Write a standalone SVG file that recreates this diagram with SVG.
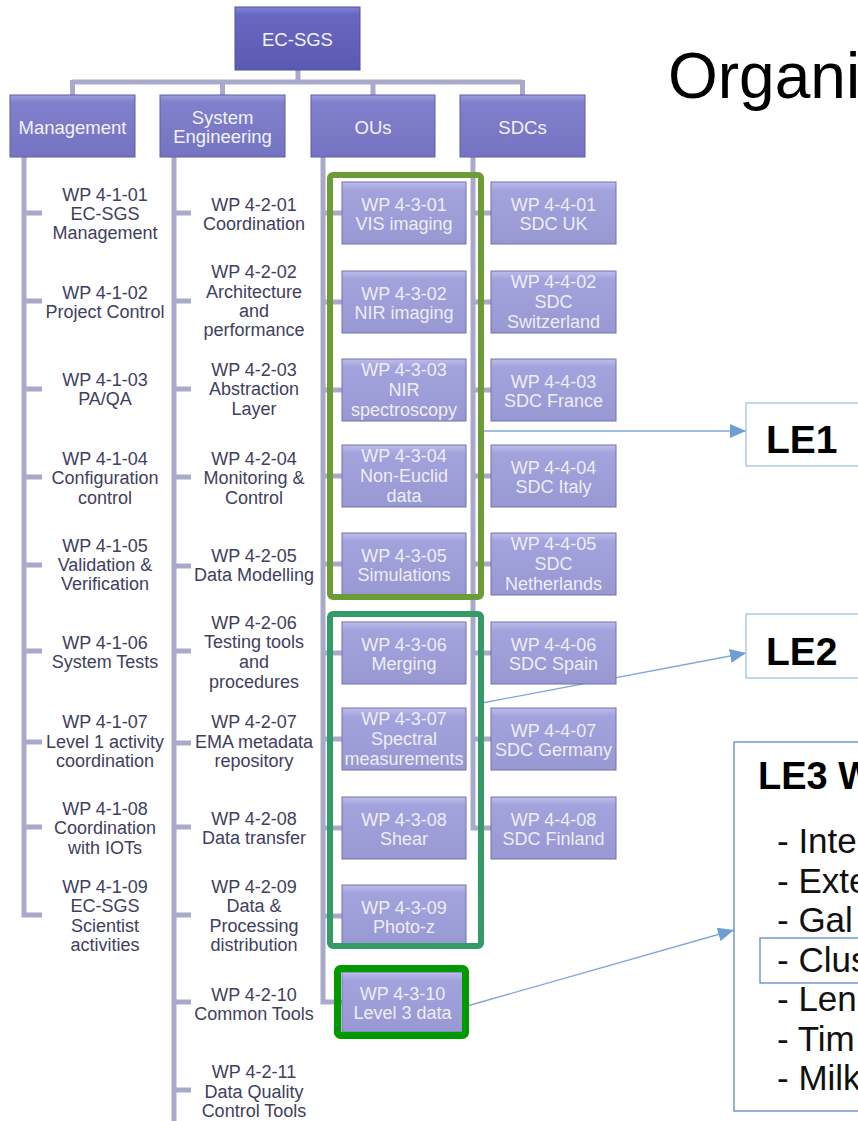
<svg xmlns="http://www.w3.org/2000/svg" width="858" height="1121" viewBox="0 0 858 1121">
<defs>
<linearGradient id="gTop" x1="0" y1="0" x2="0" y2="1"><stop offset="0" stop-color="#8282d4"/><stop offset="0.12" stop-color="#6868c2"/><stop offset="1" stop-color="#5a5ab2"/></linearGradient>
<linearGradient id="gL2" x1="0" y1="0" x2="0" y2="1"><stop offset="0" stop-color="#9c9ce0"/><stop offset="0.12" stop-color="#8080cc"/><stop offset="1" stop-color="#7474c2"/></linearGradient>
<linearGradient id="gWP" x1="0" y1="0" x2="0" y2="1"><stop offset="0" stop-color="#bcbcec"/><stop offset="0.14" stop-color="#a2a2dc"/><stop offset="1" stop-color="#9898d2"/></linearGradient>
<marker id="ah" markerUnits="userSpaceOnUse" markerWidth="16" markerHeight="14" refX="16" refY="7" orient="auto"><path d="M0,0 L16,7 L0,14 z" fill="#6e9ed4"/></marker>
</defs>
<style>
text{font-family:"Liberation Sans",Arial,sans-serif}
.stem{stroke:#a9a9cb;stroke-width:5;fill:none}
.lbl{font-size:18px;fill:#40405e;text-anchor:middle}
.top{fill:url(#gTop);stroke:#50509a;stroke-width:1}
.l2{fill:url(#gL2);stroke:#5e5ea4;stroke-width:1}
.wp{fill:url(#gWP);stroke:#7272ac;stroke-width:1}
.bt{font-size:18.5px;fill:#f2f2fa;text-anchor:middle}
.wt{font-size:18px;fill:#ededf6;text-anchor:middle}
.grp{fill:none;stroke-linejoin:round}
.conn{stroke:#7ea8d8;stroke-width:1.3;fill:none;marker-end:url(#ah)}
.le{fill:#fff;stroke:#a4c2e6;stroke-width:1.3}
.le3{fill:#fff;stroke:#4f81bd;stroke-width:1.2}
.leT{font-size:39px;font-weight:bold;fill:#000}
.li{font-size:35px;fill:#111}
</style>
<rect width="858" height="1121" fill="#fff"/>

<g id="connectors">
<path class="stem" d="M298,70 V82 M72.5,82 H522.5 M72.5,80 V95 M222.5,80 V95 M373,80 V95 M522.5,80 V95"/>
<path class="stem" d="M24,157 V915 H42"/>
<path class="stem" d="M24,213 H42 M24,301 H42 M24,389 H42 M24,477 H42 M24,565 H42 M24,651 H42 M24,742 H42 M24,827 H42"/>
<path class="stem" d="M174,157 V1121"/>
<path class="stem" d="M174,213 H191 M174,301 H191 M174,389 H191 M174,477 H191 M174,566 H191 M174,651 H191 M174,743 H191 M174,827 H191 M174,915 H191 M174,1002 H191 M174,1090 H191"/>
<path class="stem" d="M323,157 V1002 H342"/>
<path class="stem" d="M323,213 H342 M323,302 H342 M323,390 H342 M323,476 H342 M323,564 H342 M323,653 H342 M323,739 H342 M323,828 H342 M323,916 H342"/>
<path class="stem" d="M473,157 V828 H491"/>
<path class="stem" d="M473,213 H491 M473,302 H491 M473,390 H491 M473,476 H491 M473,564 H491 M473,653 H491 M473,739 H491"/>
<line class="conn" x1="482" y1="431" x2="746" y2="431"/>
<line class="conn" x1="482" y1="703" x2="746" y2="653"/>
<line class="conn" x1="467" y1="1006" x2="734" y2="930"/>
</g>

<g id="ec-sgs"><rect class="top" x="235" y="7" width="125" height="63"/><text class="bt" x="297.5" y="46">EC-SGS</text></g>
<g id="management"><rect class="l2" x="10" y="95" width="125" height="62"/><text class="bt" x="72.5" y="134">Management</text></g>
<g id="system-engineering"><rect class="l2" x="160" y="95" width="125" height="62"/><text class="bt" x="222.5" y="124">System</text><text class="bt" x="222.5" y="143">Engineering</text></g>
<g id="ous"><rect class="l2" x="311" y="95" width="124" height="62"/><text class="bt" x="373" y="134">OUs</text></g>
<g id="sdcs"><rect class="l2" x="460" y="95" width="125" height="62"/><text class="bt" x="522.5" y="134">SDCs</text></g>

<g id="wp-4-1-01"><text class="lbl" x="105" y="201">WP 4-1-01</text><text class="lbl" x="105" y="220">EC-SGS</text><text class="lbl" x="105" y="239">Management</text></g>
<g id="wp-4-1-02"><text class="lbl" x="105" y="299">WP 4-1-02</text><text class="lbl" x="105" y="318">Project Control</text></g>
<g id="wp-4-1-03"><text class="lbl" x="105" y="386">WP 4-1-03</text><text class="lbl" x="105" y="405">PA/QA</text></g>
<g id="wp-4-1-04"><text class="lbl" x="105" y="465">WP 4-1-04</text><text class="lbl" x="105" y="484">Configuration</text><text class="lbl" x="105" y="504">control</text></g>
<g id="wp-4-1-05"><text class="lbl" x="105" y="552">WP 4-1-05</text><text class="lbl" x="105" y="571">Validation &amp;</text><text class="lbl" x="105" y="590">Verification</text></g>
<g id="wp-4-1-06"><text class="lbl" x="105" y="649">WP 4-1-06</text><text class="lbl" x="105" y="668">System Tests</text></g>
<g id="wp-4-1-07"><text class="lbl" x="105" y="728">WP 4-1-07</text><text class="lbl" x="105" y="747.5">Level 1 activity</text><text class="lbl" x="105" y="767">coordination</text></g>
<g id="wp-4-1-08"><text class="lbl" x="105" y="815">WP 4-1-08</text><text class="lbl" x="105" y="834">Coordination</text><text class="lbl" x="105" y="854">with IOTs</text></g>
<g id="wp-4-1-09"><text class="lbl" x="105" y="893">WP 4-1-09</text><text class="lbl" x="105" y="912">EC-SGS</text><text class="lbl" x="105" y="932">Scientist</text><text class="lbl" x="105" y="951">activities</text></g>

<g id="wp-4-2-01"><text class="lbl" x="254" y="211">WP 4-2-01</text><text class="lbl" x="254" y="230">Coordination</text></g>
<g id="wp-4-2-02"><text class="lbl" x="254" y="278">WP 4-2-02</text><text class="lbl" x="254" y="297.5">Architecture</text><text class="lbl" x="254" y="317">and</text><text class="lbl" x="254" y="336">performance</text></g>
<g id="wp-4-2-03"><text class="lbl" x="254" y="376">WP 4-2-03</text><text class="lbl" x="254" y="395">Abstraction</text><text class="lbl" x="254" y="415">Layer</text></g>
<g id="wp-4-2-04"><text class="lbl" x="254" y="465">WP 4-2-04</text><text class="lbl" x="254" y="484">Monitoring &amp;</text><text class="lbl" x="254" y="504">Control</text></g>
<g id="wp-4-2-05"><text class="lbl" x="254" y="562">WP 4-2-05</text><text class="lbl" x="254" y="581">Data Modelling</text></g>
<g id="wp-4-2-06"><text class="lbl" x="254" y="629">WP 4-2-06</text><text class="lbl" x="254" y="648">Testing tools</text><text class="lbl" x="254" y="668">and</text><text class="lbl" x="254" y="688">procedures</text></g>
<g id="wp-4-2-07"><text class="lbl" x="254" y="728">WP 4-2-07</text><text class="lbl" x="254" y="747.5">EMA metadata</text><text class="lbl" x="254" y="767">repository</text></g>
<g id="wp-4-2-08"><text class="lbl" x="254" y="825">WP 4-2-08</text><text class="lbl" x="254" y="844">Data transfer</text></g>
<g id="wp-4-2-09"><text class="lbl" x="254" y="893">WP 4-2-09</text><text class="lbl" x="254" y="912">Data &amp;</text><text class="lbl" x="254" y="932">Processing</text><text class="lbl" x="254" y="951">distribution</text></g>
<g id="wp-4-2-10"><text class="lbl" x="254" y="1001">WP 4-2-10</text><text class="lbl" x="254" y="1020">Common Tools</text></g>
<g id="wp-4-2-11"><text class="lbl" x="254" y="1078">WP 4-2-11</text><text class="lbl" x="254" y="1097.5">Data Quality</text><text class="lbl" x="254" y="1117">Control Tools</text></g>

<g id="wp-4-3-01"><rect class="wp" x="342" y="182" width="124" height="62"/><text class="wt" x="404" y="211">WP 4-3-01</text><text class="wt" x="404" y="230">VIS imaging</text></g>
<g id="wp-4-3-02"><rect class="wp" x="342" y="271" width="124" height="62"/><text class="wt" x="404" y="300">WP 4-3-02</text><text class="wt" x="404" y="319">NIR imaging</text></g>
<g id="wp-4-3-03"><rect class="wp" x="342" y="359" width="124" height="62"/><text class="wt" x="404" y="376">WP 4-3-03</text><text class="wt" x="404" y="396">NIR</text><text class="wt" x="404" y="416">spectroscopy</text></g>
<g id="wp-4-3-04"><rect class="wp" x="342" y="445" width="124" height="62"/><text class="wt" x="404" y="462">WP 4-3-04</text><text class="wt" x="404" y="482">Non-Euclid</text><text class="wt" x="404" y="502">data</text></g>
<g id="wp-4-3-05"><rect class="wp" x="342" y="533" width="124" height="62"/><text class="wt" x="404" y="562">WP 4-3-05</text><text class="wt" x="404" y="581">Simulations</text></g>
<g id="wp-4-3-06"><rect class="wp" x="342" y="622" width="124" height="62"/><text class="wt" x="404" y="651">WP 4-3-06</text><text class="wt" x="404" y="670">Merging</text></g>
<g id="wp-4-3-07"><rect class="wp" x="342" y="708" width="124" height="62"/><text class="wt" x="404" y="725">WP 4-3-07</text><text class="wt" x="404" y="745">Spectral</text><text class="wt" x="404" y="765">measurements</text></g>
<g id="wp-4-3-08"><rect class="wp" x="342" y="797" width="124" height="62"/><text class="wt" x="404" y="826">WP 4-3-08</text><text class="wt" x="404" y="845">Shear</text></g>
<g id="wp-4-3-09"><rect class="wp" x="342" y="885" width="124" height="62"/><text class="wt" x="404" y="914">WP 4-3-09</text><text class="wt" x="404" y="933">Photo-z</text></g>
<g id="wp-4-3-10"><rect class="wp" x="342" y="972" width="121" height="60"/><text class="wt" x="402.5" y="1000">WP 4-3-10</text><text class="wt" x="402.5" y="1019">Level 3 data</text></g>

<g id="wp-4-4-01"><rect class="wp" x="491" y="182" width="125" height="62"/><text class="wt" x="553.5" y="211">WP 4-4-01</text><text class="wt" x="553.5" y="230">SDC UK</text></g>
<g id="wp-4-4-02"><rect class="wp" x="491" y="271" width="125" height="62"/><text class="wt" x="553.5" y="288">WP 4-4-02</text><text class="wt" x="553.5" y="308">SDC</text><text class="wt" x="553.5" y="328">Switzerland</text></g>
<g id="wp-4-4-03"><rect class="wp" x="491" y="359" width="125" height="62"/><text class="wt" x="553.5" y="388">WP 4-4-03</text><text class="wt" x="553.5" y="407">SDC France</text></g>
<g id="wp-4-4-04"><rect class="wp" x="491" y="445" width="125" height="62"/><text class="wt" x="553.5" y="474">WP 4-4-04</text><text class="wt" x="553.5" y="493">SDC Italy</text></g>
<g id="wp-4-4-05"><rect class="wp" x="491" y="533" width="125" height="62"/><text class="wt" x="553.5" y="550">WP 4-4-05</text><text class="wt" x="553.5" y="570">SDC</text><text class="wt" x="553.5" y="590">Netherlands</text></g>
<g id="wp-4-4-06"><rect class="wp" x="491" y="622" width="125" height="62"/><text class="wt" x="553.5" y="651">WP 4-4-06</text><text class="wt" x="553.5" y="670">SDC Spain</text></g>
<g id="wp-4-4-07"><rect class="wp" x="491" y="708" width="125" height="62"/><text class="wt" x="553.5" y="737">WP 4-4-07</text><text class="wt" x="553.5" y="756">SDC Germany</text></g>
<g id="wp-4-4-08"><rect class="wp" x="491" y="797" width="125" height="62"/><text class="wt" x="553.5" y="826">WP 4-4-08</text><text class="wt" x="553.5" y="845">SDC Finland</text></g>

<g id="group-le1"><rect class="grp" x="330" y="175" width="151" height="422" rx="3" stroke="#6b9c36" stroke-width="6"/></g>
<g id="group-le2"><rect class="grp" x="330" y="614" width="151" height="332" rx="3" stroke="#349a68" stroke-width="6"/></g>
<g id="group-le3"><rect class="grp" x="337.5" y="968.5" width="128" height="67" rx="3" stroke="#009900" stroke-width="7"/></g>

<g id="title"><text x="668" y="98" style="font-size:64px;fill:#000">Organi</text></g>

<g id="le1"><rect class="le" x="746" y="403" width="120" height="63"/><text class="leT" x="766" y="453">LE1</text></g>
<g id="le2"><rect class="le" x="746" y="614" width="120" height="64"/><text class="leT" x="766" y="665">LE2</text></g>
<g id="le3">
<rect class="le3" x="734" y="742" width="130" height="369"/>
<rect class="le3" x="760" y="938" width="104" height="45"/>
<text class="leT" x="758" y="789" style="font-size:38px">LE3 W</text>
<text class="li" x="777" y="853">- Inte</text>
<text class="li" x="777" y="892.5">- Exte</text>
<text class="li" x="777" y="932">- Gal</text>
<text class="li" x="777" y="971.5">- Clus</text>
<text class="li" x="777" y="1011">- Len</text>
<text class="li" x="777" y="1050.5">- Tim</text>
<text class="li" x="777" y="1090">- Milk</text>
</g>
</svg>
